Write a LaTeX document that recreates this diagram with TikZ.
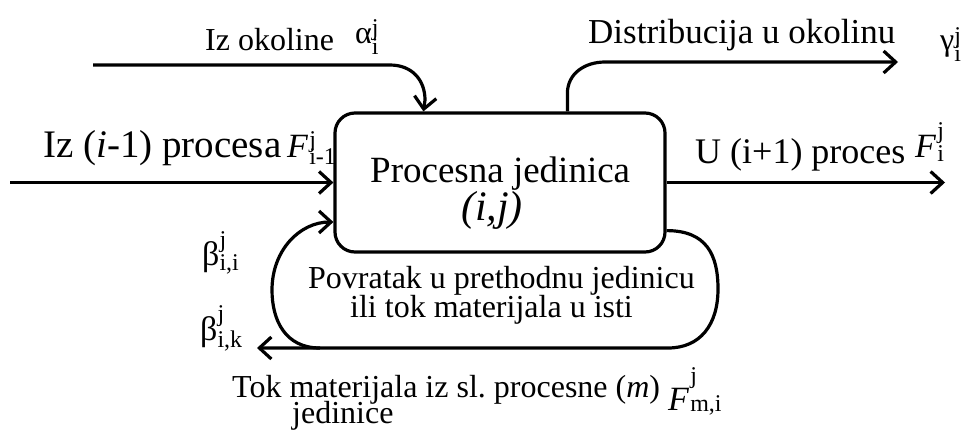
\documentclass[tikz,border=0pt]{standalone}
\usepackage{fontspec}
\setmainfont{Liberation Serif}
\usetikzlibrary{arrows.meta,calc}
\frenchspacing
\newcommand\fs[1]{\fontsize{#1}{#1}\selectfont}
\newcommand\scr{\fs{24}}
% base symbol with a subscript lowered by #4 and a superscript raised by #5
\newcommand\subsup[5]{#1\rlap{\raisebox{#5}{\scr #3}}\raisebox{-#4}{\scr #2}}
\newcommand\itF{\textit{F}\kern1pt}
\begin{document}
\begin{tikzpicture}[x=1pt,y=-1pt,
  flow/.style={line width=3.2pt, -{Straight Barb[length=12pt,width=22pt]}},
  txt/.style={inner sep=0pt, anchor=base west},
]
\useasboundingbox (0,0) rectangle (976,432);

% process unit
\node[draw, line width=3.2pt, rounded corners=20pt, minimum width=330pt,
      minimum height=139pt, inner sep=0pt] (unit) at (500,182.5) {};
\node[txt] (uname) at (370,182) {\fs{37}Procesna jedinica};
\node[txt, anchor=base] (uidx) at (492,220) {\fs{42}\itshape (i,j)};

% labels
\node[txt] (okol) at (205,50) {\fs{32}Iz okoline};
\node[txt] (alpha) at (355,43) {\fs{32}\subsup{α}{i}{j}{11pt}{8pt}};
\node[txt] (prev) at (43,157) {\fs{39}Iz (\textit{i}-1) procesa};
\node[txt] (Fprev) at (287,157) {\fs{34}\subsup{\itF}{i-1}{j}{7pt}{10pt}};
\node[txt] (distr) at (588,43) {\fs{35}Distribucija u okolinu};
\node[txt] (gamma) at (940,50) {\fs{32}\subsup{γ}{i}{j}{11pt}{7pt}};
\node[txt] (next) at (695,163) {\fs{36}U (i+1) proces};
\node[txt] (Fnext) at (915,157) {\fs{34}\subsup{\itF}{i}{j}{4pt}{19pt}};
\node[txt] (bii) at (202,265) {\fs{34}\subsup{β}{i,i}{j}{5pt}{18pt}};
\node[txt] (bik) at (200,340) {\fs{34}\subsup{β}{i,k}{j}{7pt}{19pt}};
\node[txt] (ret1) at (308,288) {\fs{32}Povratak u prethodnu jedinicu};
\node[txt] (ret2) at (350,317) {\fs{32}ili tok materijala u isti};
\node[txt] (tok1) at (232,397) {\fs{32}Tok materijala iz sl. procesne (\textit{m})};
\node[txt] (tok2) at (292,423) {\fs{32}jedinice};
\node[txt] (Fm) at (668,410) {\fs{34}\subsup{\itF}{m,i}{j}{1pt}{27pt}};

% free ends of the flows
\coordinate (alphaS) at (93,65);
\coordinate (prevS) at (10,182.5);
\coordinate (distrE) at (898,62);
\coordinate (nextE) at (945,182.5);
\coordinate (bikE) at (257,348);

% flows
\draw[flow] (alphaS) -- (390,65) .. controls (412,65) and (425,80) .. (425,100)
  -- ($(unit.north west)+(90,0)$);
\draw[flow] (prevS) -- (unit.west);
\draw[flow] ($(unit.north west)+(234,0)$) -- ++(0,-18)
  .. controls +(0,-20) and (585,62) .. (605,62) -- (distrE);
\draw[flow] (unit.east) -- (nextE);
\draw[flow] ($(unit.south east)+(0,-23)$) .. controls +(40,0) and (718,255) .. (718,289)
  .. controls (718,325) and (700,348) .. (668,348) -- (bikE);
\draw[flow] (320,348) .. controls (285,348) and (272,320) .. (272,290)
  .. controls (272,250) and (300,222) .. ($(unit.west)+(0,39.5)$);
\end{tikzpicture}
\end{document}
